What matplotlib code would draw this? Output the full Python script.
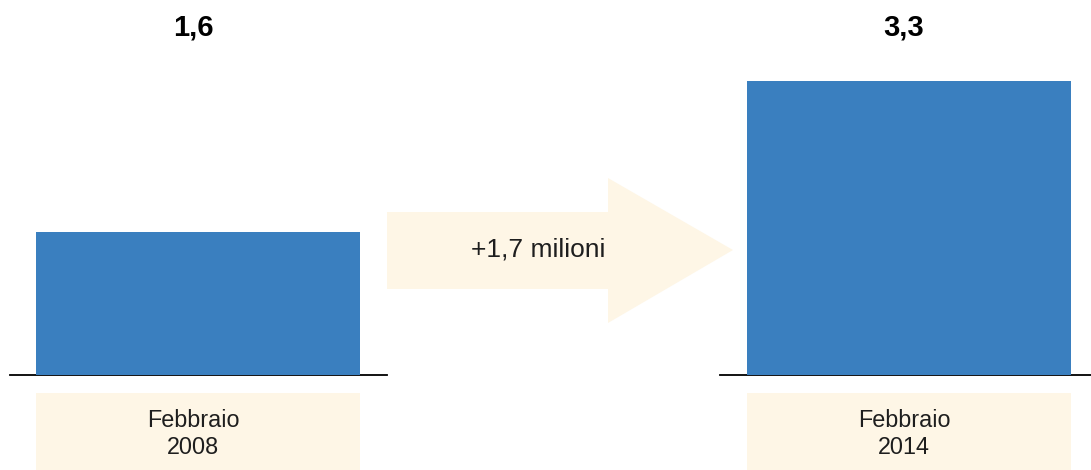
import matplotlib
matplotlib.use("Agg")
import matplotlib.pyplot as plt
from matplotlib.patches import Polygon, Rectangle

# Data
categories = ["Febbraio\n2008", "Febbraio\n2014"]
values = [1.6, 3.3]
value_labels = ["1,6", "3,3"]
change_label = "+1,7 milioni"

BLUE = "#3a7fbf"
CREAM = "#fef6e6"
W, H = 1091, 470
plt.rcParams['font.family'] = ['Liberation Sans', 'DejaVu Sans']

fig = plt.figure(figsize=(W / 100, H / 100), dpi=100)

# decoration axes in pixel coordinates
deco = fig.add_axes([0, 0, 1, 1])
deco.set_xlim(0, W)
deco.set_ylim(H, 0)
deco.axis("off")

# data axes
base_px = 374.5
px_per_unit = (base_px - 81) / values[1]
ax = fig.add_axes([0, 0, 1, 1], facecolor="none")
ax.set_xlim(0, W)
ax.set_ylim(-(H - base_px) / px_per_unit, base_px / px_per_unit)
ax.axis("off")

centers = [198, 909]
bar_w = 324
ax.bar(centers, values, width=bar_w, color=BLUE, zorder=2)

# baselines
deco.plot([10, 387], [base_px, base_px], color="black", lw=1.3, zorder=3)
deco.plot([720, 1091], [base_px, base_px], color="black", lw=1.3, zorder=3)

# category boxes and labels
for c, cat in zip(centers, categories):
    deco.add_patch(Rectangle((c - bar_w / 2, 393), bar_w, 77, color=CREAM, lw=0))
    deco.text(c - 5, 434, cat, ha="center", va="center", fontsize=16.8,
              color="#1e1e1e", linespacing=1.2)

# value labels
for c, lab in zip(centers, value_labels):
    deco.text(c - 5, 28, lab, ha="center", va="center", fontsize=21,
              fontweight="bold", color="black")

# arrow
arrow = Polygon([(387, 212), (608, 212), (608, 178), (733, 250),
                 (608, 323), (608, 289), (387, 289)], closed=True,
                color=CREAM, lw=0)
deco.add_patch(arrow)
deco.text(538, 250, change_label, ha="center", va="center", fontsize=19,
          color="#1e1e1e")

fig.savefig("out.png", dpi=100)
